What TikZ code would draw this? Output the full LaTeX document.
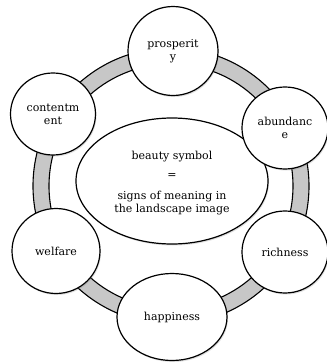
\documentclass[tikz,border=0pt]{standalone}
\usepackage{fontspec}
\setmainfont{DejaVu Serif}
\usetikzlibrary{shapes.geometric,shadows}
\begin{document}
\begin{tikzpicture}[x=1pt,y=-1pt,
  lbl/.style={font=\fontsize{11}{13}\selectfont, align=center, text=black},
  bubble/.style={ellipse, draw=black, line width=1.2pt, fill=white, inner sep=0pt, lbl,
    drop shadow={opacity=0.25, shadow xshift=1pt, shadow yshift=-1.5pt}},
  band/.style={fill=black!22, draw=black, line width=1.1pt, even odd rule}]
\useasboundingbox (0,0) rectangle (327,362);
\fill[white] (0,0) rectangle (327,362);
% ring band
\path[band] (171,186) circle[radius=138] (171,186) circle[radius=122];
% center
\node[bubble, minimum width=192, minimum height=126] (center) at (172,181) {};
\node[lbl] (t1) at (172,157) {beauty symbol};
\node[lbl] (t2) at (172,176) {=};
\node[lbl] (t3) at (172,203) {signs of meaning in\\the landscape image};
% outer nodes
\node[bubble, minimum width=90, minimum height=89] (prosperity) at (173,51) {prosperit\\y};
\node[bubble, minimum width=85, minimum height=82] (contentment) at (53,114) {contentm\\ent};
\node[bubble, minimum width=86, minimum height=82] (abundance) at (285,128) {abundanc\\e};
\node[bubble, minimum width=88, minimum height=85] (welfare) at (56,251) {welfare};
\node[bubble, minimum width=86, minimum height=82] (richness) at (285,252) {richness};
\node[bubble, minimum width=110, minimum height=87] (happiness) at (172,317) {happiness};
\end{tikzpicture}
\end{document}
